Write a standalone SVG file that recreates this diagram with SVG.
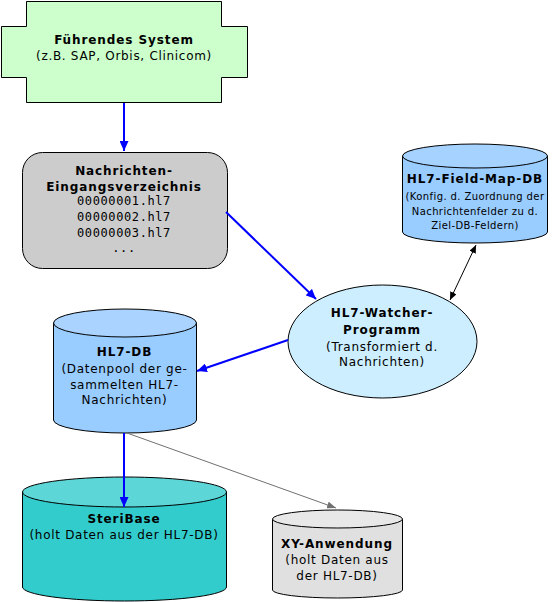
<svg xmlns="http://www.w3.org/2000/svg" width="554" height="602" viewBox="0 0 554 602">
<style>
text{font-family:"DejaVu Sans","Verdana",sans-serif;fill:#000;text-anchor:middle}
.b{font-weight:bold;font-size:12px;letter-spacing:0.9px}
.n{font-size:12px;letter-spacing:0.7px}
.s{font-size:10px;letter-spacing:0.4px}
.m{font-family:"DejaVu Sans Mono","Liberation Mono",monospace;font-size:12px;letter-spacing:0.6px}
.o{stroke:#000;stroke-width:1}
.blue{stroke:#0000ff;stroke-width:2;fill:none}
.blk{stroke:#000;stroke-width:1;fill:none}
.gry{stroke:#707070;stroke-width:1;fill:none}
</style>
<defs>
<marker id="ab" markerUnits="userSpaceOnUse" markerWidth="11" markerHeight="9" refX="10" refY="4.5" orient="auto"><path d="M0,0 L10,4.5 L0,9 z" fill="#0000ff"/></marker>
<marker id="ak" markerUnits="userSpaceOnUse" markerWidth="9" markerHeight="7" refX="8" refY="3.5" orient="auto-start-reverse"><path d="M0,0 L8,3.5 L0,7 z" fill="#000"/></marker>
<marker id="ag" markerUnits="userSpaceOnUse" markerWidth="10" markerHeight="7" refX="9" refY="3.5" orient="auto"><path d="M0,0 L9,3.5 L0,7 z" fill="#707070"/></marker>
</defs>

<g id="fuehrendes-system">
<path class="o" fill="#ccffcc" d="M26.5,1.5 H221.5 V26.5 H247.5 V77.5 H221.5 V102.5 H26.5 V77.5 H1.5 V26.5 H26.5 Z"/>
<text class="b" x="124" y="44">Führendes System</text>
<text class="n" x="124" y="60">(z.B. SAP, Orbis, Clinicom)</text>
</g>

<g id="nachrichten-eingang">
<rect class="o" fill="#cccccc" x="22.5" y="152.5" width="205" height="116" rx="20" ry="20"/>
<text class="b" x="124" y="175">Nachrichten-</text>
<text class="b" x="124" y="191">Eingangsverzeichnis</text>
<text class="m" x="124" y="205">00000001.hl7</text>
<text class="m" x="124" y="221">00000002.hl7</text>
<text class="m" x="124" y="237">00000003.hl7</text>
<text class="m" x="124" y="252">...</text>
</g>

<g id="hl7-field-map-db">
<path class="o" fill="#99ccff" d="M402.5,156 V232 A72.5,11 0 0 0 547.5,232 V156 Z"/>
<ellipse class="o" fill="#a6d2ff" cx="475" cy="156" rx="72.5" ry="12"/>
<text class="b" x="475" y="183">HL7-Field-Map-DB</text>
<text class="s" x="475" y="200">(Konfig. d. Zuordnung der</text>
<text class="s" x="475" y="215">Nachrichtenfelder zu d.</text>
<text class="s" x="475" y="229">Ziel-DB-Feldern)</text>
</g>

<g id="hl7-watcher">
<ellipse class="o" fill="#cceeff" cx="382.5" cy="341.5" rx="94.5" ry="56.5"/>
<text class="b" x="382" y="317">HL7-Watcher-</text>
<text class="b" x="382" y="334">Programm</text>
<text class="n" x="382" y="351">(Transformiert d.</text>
<text class="n" x="382" y="366">Nachrichten)</text>
</g>

<g id="hl7-db">
<path class="o" fill="#99ccff" d="M53.5,323 V420 A71.5,13 0 0 0 196.5,420 V323 Z"/>
<ellipse class="o" fill="#aad4ff" cx="125" cy="323" rx="71.5" ry="14"/>
<text class="b" x="124.5" y="356">HL7-DB</text>
<text class="n" x="124.5" y="373">(Datenpool der ge-</text>
<text class="n" x="124.5" y="389">sammelten HL7-</text>
<text class="n" x="124.5" y="404">Nachrichten)</text>
</g>

<g id="steribase">
<path class="o" fill="#33cccc" d="M22.5,492 V587 A102,14 0 0 0 226.5,587 V492 Z"/>
<ellipse class="o" fill="#5cd6d6" cx="124.5" cy="492" rx="102" ry="15"/>
<text class="b" x="124" y="523">SteriBase</text>
<text class="n" x="124" y="539">(holt Daten aus der HL7-DB)</text>
</g>

<g id="xy-anwendung">
<path class="o" fill="#e0e0e0" d="M272.5,519 V590 A65,8 0 0 0 402.5,590 V519 Z"/>
<ellipse class="o" fill="#e8e8e8" cx="337.5" cy="519" rx="65" ry="9"/>
<text class="b" x="337" y="548">XY-Anwendung</text>
<text class="n" x="337" y="564">(holt Daten aus</text>
<text class="n" x="337" y="580">der HL7-DB)</text>
</g>

<g id="connectors">
<line class="blue" x1="124" y1="103" x2="124" y2="151" marker-end="url(#ab)"/>
<line class="blue" x1="226" y1="212" x2="316" y2="299" marker-end="url(#ab)"/>
<line class="blue" x1="288" y1="340" x2="197" y2="371" marker-end="url(#ab)"/>
<line class="blue" x1="124" y1="433" x2="124" y2="507" marker-end="url(#ab)"/>
<line class="blk" x1="450" y1="300" x2="476" y2="245" marker-start="url(#ak)" marker-end="url(#ak)"/>
<line class="gry" x1="127" y1="433" x2="336" y2="508" marker-end="url(#ag)"/>
</g>
</svg>
